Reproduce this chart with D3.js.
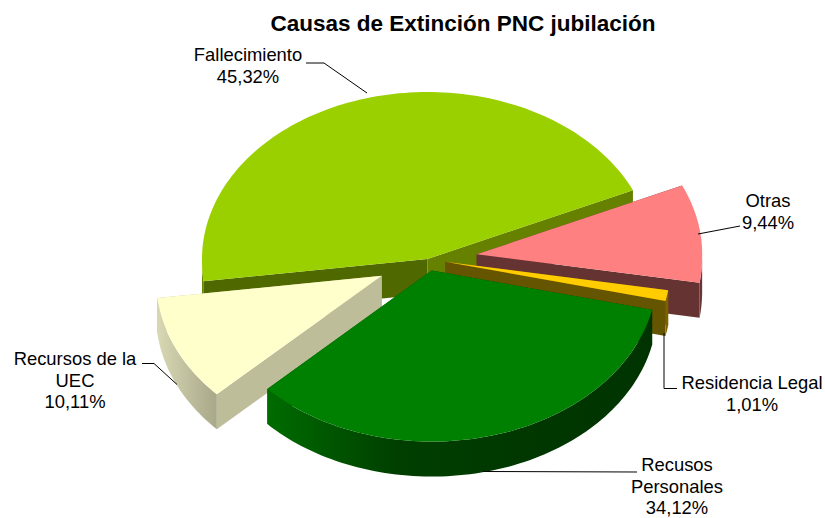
<!DOCTYPE html>
<html><head><meta charset="utf-8">
<script src="https://cdnjs.cloudflare.com/ajax/libs/d3/7.8.5/d3.min.js"></script>
<style>html,body{margin:0;background:#fff}svg{display:block}text{font-family:"Liberation Sans",Arial,sans-serif;fill:#000}</style>
</head><body><svg id="c" width="825" height="518"></svg>
<script>
const categories = ["Fallecimiento","Otras","Residencia Legal","Recusos Personales","Recursos de la UEC"];
const values = [45.32,9.44,1.01,34.12,10.11];
const valueLabels = ["45,32%","9,44%","1,01%","34,12%","10,11%"];
const labelLines = [["Fallecimiento"],["Otras"],["Residencia Legal"],["Recusos","Personales"],["Recursos de la","UEC"]];
const explode = [0,0.22,0.08,0.07,0.225];
const topColors = ["#9BD000","#FF8080","#FFCC00","#008000","#FFFFCC"];
const wallFirst = ["#4F6800","#663333","#7F6000","#004000","#BDBD99"];
const wallLast = ["#668000","#663333","#665500","#004000","#BDBD99"];
const outerStops = [["#6F9000","#5A7500"],["#663333","#6A3838"],["#7F6000","#7F6000"],["#006C00","#003F00","#003800","#003300"],["#D8D8B4","#A8A88A"]];
const labelPos = [[248,55],[768,201],[752,383],[677,465],[75,359]];
const leaders = [
  [[306,63],[324,63],[367,93]],
  [[698,234],[740,226]],
  [[664,333],[664,388.5],[677,388.5]],
  [[483,471.5],[637,472]],
  [[142,363.5],[154,363.5],[177,384.5]]
];
const svg = d3.select("#c");
const cx=427.5, cy=259, rx=225.5, depth=35;
const X=d3.scaleLinear().domain([-1,1]).range([cx-rx,cx+rx]);
const Y=d3.scaleLinear().domain([-1,0,1]).range([cy-167,cy,cy+171]);
const start=-97.5*Math.PI/180;
const arcs=d3.pie().sort(null).startAngle(start).endAngle(start+2*Math.PI)(values);
const pt=(a,r,e,m)=>{
  const u=r*Math.sin(a)+e*Math.sin(m), v=-r*Math.cos(a)-e*Math.cos(m);
  return [X(u*(1+0.015*Math.max(0,v))),Y(v)];
};
const line=d3.line();
const defs=svg.append("defs");
function drawSlice(i){
  const s=arcs[i],e=explode[i],m=(s.startAngle+s.endAngle)/2;
  const n=Math.max(4,Math.ceil((s.endAngle-s.startAngle)*40));
  const as=d3.range(n+1).map(k=>s.startAngle+(s.endAngle-s.startAngle)*k/n);
  const apex=pt(0,0,e,m), rim=as.map(a=>pt(a,1,e,m));
  const g=svg.append("g").attr("class","slice").datum(categories[i]);
  const down=p=>[p[0],p[1]+depth];
  const first=rim[0], last=rim[n];
  g.append("path").attr("d",line([apex,first,down(first),down(apex)])+"Z").attr("fill",wallFirst[i]);
  g.append("path").attr("d",line([apex,last,down(last),down(apex)])+"Z").attr("fill",wallLast[i]);
  const front=as.filter(a=>{const t=((a%(2*Math.PI))+2*Math.PI)%(2*Math.PI);return t>=Math.PI/2&&t<=3*Math.PI/2;});
  if(front.length>1){
    const up=front.map(a=>pt(a,1,e,m));
    const xs=d3.extent(up,d=>d[0]);
    const stops=outerStops[i];
    const gr=defs.append("linearGradient").attr("id","g"+i).attr("gradientUnits","userSpaceOnUse")
      .attr("x1",xs[0]).attr("x2",xs[1]).attr("y1",0).attr("y2",0);
    stops.forEach((c,k)=>gr.append("stop").attr("offset",k/(stops.length-1)).attr("stop-color",c));
    g.append("path").attr("d",line(up.concat(up.slice().reverse().map(down)))+"Z").attr("fill",`url(#g${i})`);
  }
  g.append("path").attr("d",line([apex].concat(rim))+"Z").attr("fill",topColors[i]);
}
[0,1,2,4,3].forEach(drawSlice);
svg.append("text").attr("x",463).attr("y",31).attr("text-anchor","middle").attr("font-size",22.5).attr("font-weight","bold").text("Causas de Extinción PNC jubilación");
leaders.forEach(l=>svg.append("path").attr("d",line(l)).attr("fill","none").attr("stroke","#000").attr("stroke-width",1));
categories.forEach((c,i)=>{
  const t=labelLines[i].concat([valueLabels[i]]);
  t.forEach((s,k)=>svg.append("text").attr("x",labelPos[i][0]).attr("y",labelPos[i][1]+k*21.5+6).attr("text-anchor","middle").attr("font-size",18.4).text(s));
});
</script></body></html>
